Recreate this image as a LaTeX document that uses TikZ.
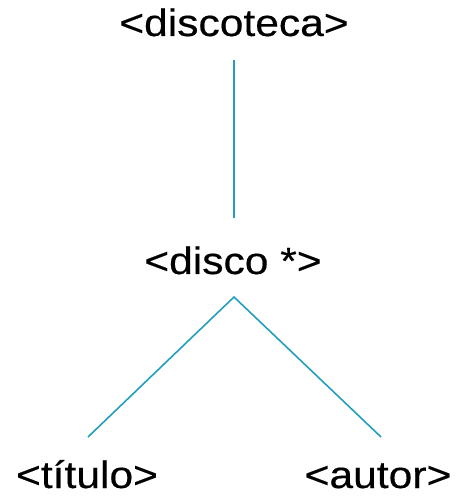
\documentclass[tikz,border=0pt]{standalone}
\usepackage{fontspec}
\setmainfont[FakeStretch=1.12,FakeBold=0.4]{Liberation Sans}
\usepackage{tikz}
\usetikzlibrary{calc,positioning}
\definecolor{rama}{RGB}{35,158,190}

\begin{document}
\begin{tikzpicture}[x=1pt,y=1pt,
  elem/.style={font=\fontsize{38}{44}\selectfont,inner sep=0pt,anchor=base,text=black},
  enlace/.style={rama,line width=1.6pt}]
  \useasboundingbox (0,0) rectangle (462,496);
  \node[elem] (discoteca) at (234,460) {<discoteca>};
  \node[elem] (disco) at (233,222) {<disco *>};
  \node[elem] (titulo) at (87,8) {<título>};
  \node[elem] (autor) at (378,8) {<autor>};
  % puntos de union
  \coordinate (bajo) at ($(discoteca.base)+(0,-24)$);
  \coordinate (sobre) at ($(disco.base)+(1,56)$);
  \coordinate (rama) at ($(disco.base)+(1,-23)$);
  \coordinate (izq) at ($(titulo.base)+(1,51)$);
  \coordinate (der) at ($(autor.base)+(3,51)$);
  \draw[enlace] (bajo) -- (sobre);
  \draw[enlace] (izq) -- (rama) -- (der);
\end{tikzpicture}
\end{document}
